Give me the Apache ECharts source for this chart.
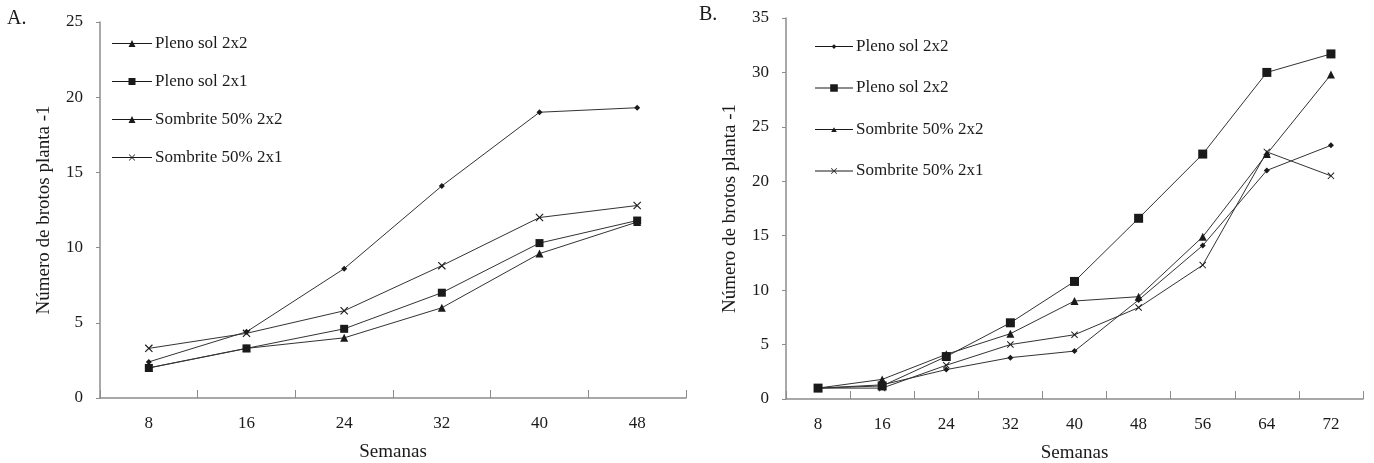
<!DOCTYPE html>
<html>
<head>
<meta charset="utf-8">
<script src="https://cdn.jsdelivr.net/npm/echarts@6/dist/echarts.min.js"></script>
<style>
  html, body { margin: 0; padding: 0; background: #ffffff; }
  #chart { width: 1374px; height: 463px; }
</style>
</head>
<body>
<div id="chart"></div>
<script>
// Panel A: weeks 8..48
var weeksA = ["8", "16", "24", "32", "40", "48"];
var plenoA22 = [2.4, 4.4, 8.6, 14.1, 19.0, 19.3];
var plenoA21 = [2.0, 3.3, 4.6, 7.0, 10.3, 11.8];
var sombA22 = [2.0, 3.3, 4.0, 6.0, 9.6, 11.7];
var sombA21 = [3.3, 4.3, 5.8, 8.8, 12.0, 12.8];

// Panel B: weeks 8..72
var weeksB = ["8", "16", "24", "32", "40", "48", "56", "64", "72"];
var plenoB1 = [1.0, 1.3, 2.7, 3.8, 4.4, 9.1, 14.1, 21.0, 23.3];
var plenoB2 = [1.0, 1.2, 3.9, 7.0, 10.8, 16.6, 22.5, 30.0, 31.7];
var sombB22 = [1.0, 1.8, 4.1, 6.0, 9.0, 9.4, 14.9, 22.5, 29.8];
var sombB21 = [1.0, 1.0, 3.1, 5.0, 5.9, 8.4, 12.3, 22.7, 20.5];

var namesA = ["Pleno sol 2x2", "Pleno sol 2x1", "Sombrite 50% 2x2", "Sombrite 50% 2x1"];
var namesB = ["Pleno sol 2x2", "Pleno sol 2x2", "Sombrite 50% 2x2", "Sombrite 50% 2x1"];
var yTitle = "Número de brotos planta -1";
var xTitle = "Semanas";

var FONT = "Liberation Serif";
var INK = "#1a1a1a";
var AXIS = "#8c8c8c";

var crossPath = "path://M0,1L1,0L10,9L9,10Z M9,0L10,1L1,10L0,9Z";

// legend icons: 40x10 box with line and marker
var iconBox = "M0,0L0,0Z M40,10L40,10Z ";
var iconLine = "M0,4.5L40,4.5L40,5.5L0,5.5Z ";
var icons = {
  triangle: "path://" + iconBox + iconLine + "M16.5,8.5L20,1.5L23.5,8.5Z",
  square: "path://" + iconBox + iconLine + "M16.5,1.5L23.5,1.5L23.5,8.5L16.5,8.5Z",
  bigsquare: "path://" + iconBox + iconLine + "M16,1L24,1L24,9L16,9Z",
  diamond: "path://" + iconBox + iconLine + "M20,2.5L22.5,5L20,7.5L17.5,5Z",
  smalltri: "path://" + iconBox + iconLine + "M17,7.5L20,2.5L23,7.5Z",
  cross: "path://" + iconBox + iconLine +
    "M16.8,2.3L17.3,1.8L23.2,7.7L22.7,8.2Z M22.7,1.8L23.2,2.3L17.3,8.2L16.8,7.7Z"
};

function makeSeries(key, label, data, axisIdx, symbol, size) {
  return {
    name: key + "|" + label,
    type: "line",
    xAxisIndex: axisIdx,
    yAxisIndex: axisIdx,
    data: data,
    symbol: symbol,
    symbolSize: size,
    showSymbol: true,
    animation: false,
    lineStyle: { color: "#333333", width: 1 },
    itemStyle: { color: INK, borderWidth: 0 },
    emphasis: { disabled: true }
  };
}

function xAxisCfg(gridIdx, cats) {
  return {
    type: "category",
    gridIndex: gridIdx,
    data: cats,
    boundaryGap: true,
    name: xTitle,
    nameLocation: "middle",
    nameGap: 45,
    nameTextStyle: { fontFamily: FONT, fontSize: 19, color: INK },
    axisLine: { lineStyle: { color: AXIS, width: 1.5 } },
    axisTick: { show: true, inside: true, length: 8, lineStyle: { color: AXIS } },
    axisLabel: { margin: 17, fontFamily: FONT, fontSize: 17, color: INK },
    splitLine: { show: false }
  };
}

function yAxisCfg(gridIdx, max) {
  return {
    type: "value",
    gridIndex: gridIdx,
    min: 0,
    max: max,
    interval: 5,
    name: yTitle,
    nameLocation: "middle",
    nameGap: 46,
    nameTextStyle: { fontFamily: FONT, fontSize: 19, color: INK },
    axisLine: { show: true, lineStyle: { color: AXIS, width: 1.5 } },
    axisTick: { show: true, length: 4, lineStyle: { color: AXIS } },
    axisLabel: { margin: 17, fontFamily: FONT, fontSize: 17, color: INK },
    splitLine: { show: false }
  };
}

function legendCfg(key, labels, iconList, left, top, gap, width) {
  return {
    orient: "vertical",
    left: left,
    top: top,
    itemWidth: width,
    itemHeight: 10,
    itemGap: gap,
    selectedMode: false,
    data: labels.map(function(l, i) {
      return { name: key + i + "|" + l, icon: iconList[i] };
    }),
    formatter: function(name) {
      return name.split("|")[1];
    },
    textStyle: { fontFamily: FONT, fontSize: 17, color: INK, lineHeight: 16, padding: [0, 0, 0, -2] }
  };
}

var chart = echarts.init(document.getElementById("chart"), null, { renderer: "canvas" });

var option = {
  backgroundColor: "#ffffff",
  animation: false,
  grid: [
    { left: 100, top: 22, width: 586, height: 376, outerBoundsMode: "none", containLabel: false },
    { left: 786, top: 18, width: 577, height: 381, outerBoundsMode: "none", containLabel: false }
  ],
  xAxis: [xAxisCfg(0, weeksA), xAxisCfg(1, weeksB)],
  yAxis: [yAxisCfg(0, 25), yAxisCfg(1, 35)],
  legend: [
    legendCfg("A", namesA, [icons.triangle, icons.square, icons.triangle, icons.cross], 107, 30, 21, 40),
    legendCfg("B", namesB, [icons.diamond, icons.bigsquare, icons.smalltri, icons.cross], 810, 33, 24.5, 38)
  ],
  graphic: [
    { type: "text", left: 7, top: 9, style: { text: "A.", font: "20px " + FONT, fill: INK } },
    { type: "text", left: 699, top: 5, style: { text: "B.", font: "20px " + FONT, fill: INK } }
  ],
  series: [
    makeSeries("A0", namesA[0], plenoA22, 0, "diamond", 6),
    makeSeries("A1", namesA[1], plenoA21, 0, "rect", 8),
    makeSeries("A2", namesA[2], sombA22, 0, "triangle", 8),
    makeSeries("A3", namesA[3], sombA21, 0, crossPath, 8),
    makeSeries("B0", namesB[0], plenoB1, 1, "diamond", 6),
    makeSeries("B1", namesB[1], plenoB2, 1, "rect", 9),
    makeSeries("B2", namesB[2], sombB22, 1, "triangle", 8),
    makeSeries("B3", namesB[3], sombB21, 1, crossPath, 7)
  ]
};

chart.setOption(option);
</script>
</body>
</html>
